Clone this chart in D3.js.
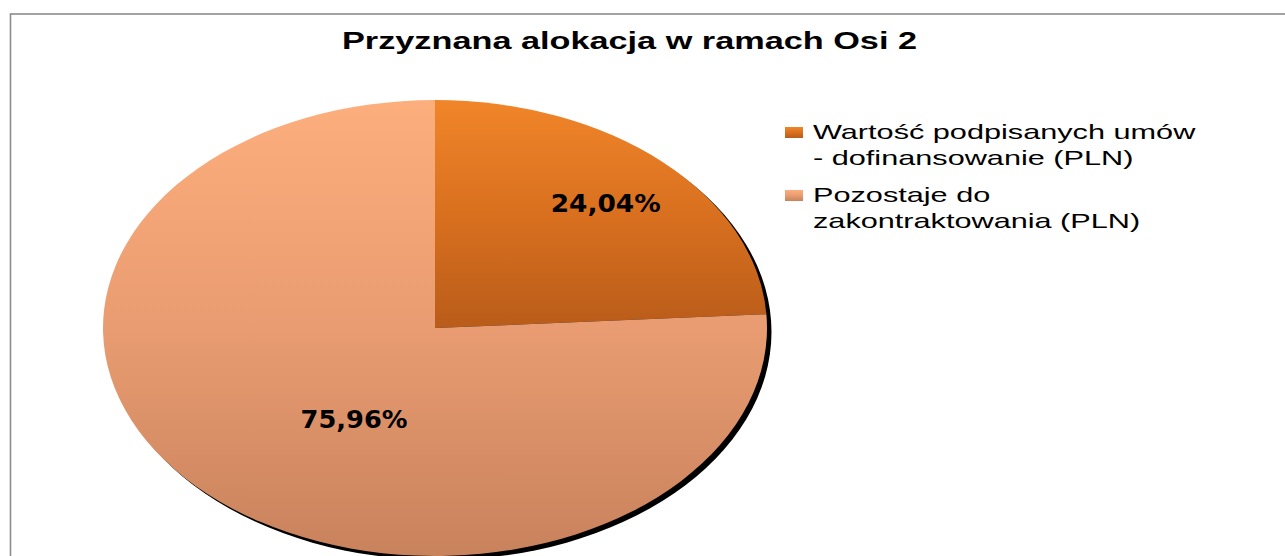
<!DOCTYPE html>
<html lang="pl">
  <head>
    <meta charset="utf-8" />
    <title>Przyznana alokacja w ramach Osi 2</title>
    <style>
      body {
        margin: 0;
        background: #fff;
      }
      svg {
        display: block;
      }
      .title {
        font-family: "Liberation Sans", Arial, sans-serif;
        font-weight: bold;
        font-size: 23px;
        fill: #000;
      }
      .legend text {
        font-family: "Liberation Sans", Arial, sans-serif;
        font-size: 21px;
        fill: #000;
      }
      .slice-label {
        font-family: "DejaVu Sans", Verdana, sans-serif;
        font-weight: bold;
        font-size: 24px;
        fill: #000;
      }
    </style>
  </head>
  <body>
    <svg width="1285" height="556"></svg>

    <script src="https://cdnjs.cloudflare.com/ajax/libs/d3/7.8.5/d3.min.js"></script>
    <script>
      // data
      const chartTitle = "Przyznana alokacja w ramach Osi 2";
      const categories = [
        "Wartość podpisanych umów - dofinansowanie (PLN)",
        "Pozostaje do zakontraktowania (PLN)",
      ];
      const shares = [24.04, 75.96];
      const legendLines = [
        ["Wartość podpisanych umów", "- dofinansowanie (PLN)"],
        ["Pozostaje do", "zakontraktowania (PLN)"],
      ];

      // colours (top -> bottom of each slice)
      const sliceStops = [
        ["#f08529", "#d9701f", "#b95c1a"],
        ["#fdae7d", "#e99c71", "#c8825c"],
      ];

      const width = 1285;
      const height = 556;
      const cx = 435;
      const cy = 328;
      const R = 228; // vertical radius
      const sx = 332 / R; // the chart is stretched sideways

      const svg = d3.select("svg");
      const defs = svg.append("defs");

      sliceStops.forEach((stops, i) => {
        const grad = defs
          .append("linearGradient")
          .attr("id", "grad" + i)
          .attr("x1", 0)
          .attr("y1", 0)
          .attr("x2", 0)
          .attr("y2", 1);
        stops.forEach((c, k) => {
          grad
            .append("stop")
            .attr("offset", k / (stops.length - 1))
            .attr("stop-color", c);
        });
      });

      defs
        .append("filter")
        .attr("id", "blur")
        .attr("x", "-5%")
        .attr("y", "-5%")
        .attr("width", "110%")
        .attr("height", "110%")
        .append("feGaussianBlur")
        .attr("stdDeviation", 0.5);

      // chart area border (runs off the right and bottom)
      svg
        .append("rect")
        .attr("x", 10.5)
        .attr("y", 14)
        .attr("width", width + 20)
        .attr("height", height + 20)
        .attr("fill", "none")
        .attr("stroke", "#8c8c8c")
        .attr("stroke-width", 1.6);

      // title
      svg
        .append("text")
        .attr("class", "title")
        .attr("x", 629.5)
        .attr("y", 49)
        .attr("text-anchor", "middle")
        .attr("textLength", 575)
        .attr("lengthAdjust", "spacingAndGlyphs")
        .text(chartTitle);

      // pie
      const pie = d3
        .pie()
        .sort(null)
        .value((d) => d);
      const arcs = pie(shares);
      const arc = d3.arc().innerRadius(0).outerRadius(R);

      const pieG = svg
        .append("g")
        .attr("transform", `translate(${cx},${cy}) scale(${sx},1)`);

      // drop shadow
      pieG
        .append("path")
        .attr("d", arc({ startAngle: 0, endAngle: 2 * Math.PI }))
        .attr("fill", "#000")
        .attr("transform", `translate(${4.5 / sx},4)`)
        .attr("filter", "url(#blur)");

      pieG
        .selectAll("path.slice")
        .data(arcs)
        .join("path")
        .attr("class", "slice")
        .attr("d", arc)
        .attr("fill", (d, i) => `url(#grad${i})`);

      // percent labels
      const fmt = d3
        .formatLocale({
          decimal: ",",
          thousands: " ",
          grouping: [3],
          currency: ["", " zł"],
        })
        .format(".2f");
      const labelRadius = [0.75, 0.47];
      const labelNudge = [
        [0, 0],
        [26, 13],
      ];
      const labelWidth = [110, 107];

      svg
        .append("g")
        .selectAll("text")
        .data(arcs)
        .join("text")
        .attr("class", "slice-label")
        .attr("text-anchor", "middle")
        .attr("dy", "0.36em")
        .attr("x", (d, i) => {
          const a = (d.startAngle + d.endAngle) / 2;
          return cx + Math.sin(a) * R * labelRadius[i] * sx + labelNudge[i][0];
        })
        .attr("y", (d, i) => {
          const a = (d.startAngle + d.endAngle) / 2;
          return cy - Math.cos(a) * R * labelRadius[i] + labelNudge[i][1];
        })
        .attr("textLength", (d, i) => labelWidth[i])
        .attr("lengthAdjust", "spacingAndGlyphs")
        .text((d) => fmt(d.data) + "%");

      // legend
      const legend = svg.append("g").attr("class", "legend");
      const itemY = d3.scalePoint().domain(categories).range([139, 202]);

      const items = legend
        .selectAll("g")
        .data(categories)
        .join("g")
        .attr("transform", (d) => `translate(0,${itemY(d)})`);

      items
        .append("rect")
        .attr("x", 785)
        .attr("y", -12)
        .attr("width", 18)
        .attr("height", 11)
        .attr("fill", (d, i) => `url(#grad${i})`);

      items.each(function (d, i) {
        d3.select(this)
          .selectAll("text")
          .data(legendLines[i])
          .join("text")
          .attr("x", 813)
          .attr("y", (t, k) => k * 26)
          .text((t) => t)
          .each(function () {
            const w = this.getComputedTextLength();
            d3.select(this)
              .attr("textLength", w * 1.46)
              .attr("lengthAdjust", "spacingAndGlyphs");
          });
      });
    </script>
  </body>
</html>
